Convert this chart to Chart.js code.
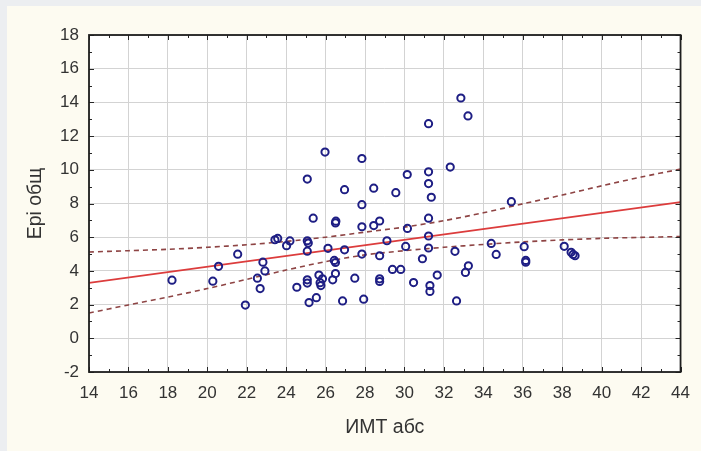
<!DOCTYPE html>
<html>
<head>
<meta charset="utf-8">
<script src="https://cdn.jsdelivr.net/npm/chart.js@4/dist/chart.umd.min.js"></script>
<style>
  html, body { margin: 0; padding: 0; }
  body { background: #eceef1; width: 701px; height: 451px; overflow: hidden; position: relative; }
  #panel { position: absolute; left: 7px; top: 6px; right: 0; bottom: 0; background: #fdfbf1; }
  #wrap { position: absolute; left: 0; top: 0; width: 701px; height: 451px; }
</style>
</head>
<body>
<div id="panel"></div>
<div id="wrap"><canvas id="chart"></canvas></div>
<script>
// ИМТ абс (x) и Ері общ (y) для каждого наблюдения
const imtValues = [
  18.21, 20.28, 20.57, 21.54, 21.93, 22.54, 22.68, 22.82, 22.92, 23.43,
  23.57, 24.02, 24.19, 24.54, 25.07, 25.12, 25.07, 25.07, 25.07, 25.16,
  25.53, 25.66, 25.84, 25.72, 25.76, 26.12, 26.36, 26.50, 26.44, 26.50,
  26.50, 26.52, 25.37, 25.07, 25.97, 26.96, 26.96, 26.86, 27.48, 27.84,
  27.84, 27.84, 27.84, 27.93, 28.44, 28.44, 28.74, 28.74, 28.74, 28.74,
  29.11, 29.39, 29.81, 29.56, 30.14, 30.15, 30.06, 30.46, 30.91, 31.22,
  31.22, 31.22, 31.36, 31.22, 31.22, 31.22, 31.29, 31.29, 31.66, 32.32,
  32.56, 32.64, 32.86, 33.22, 33.24, 33.09, 34.40, 34.65, 35.42, 36.07,
  36.15, 36.15, 38.10, 38.45, 38.55, 38.65
];
const epiValues = [
  3.45, 3.39, 4.27, 4.99, 1.97, 3.57, 2.95, 4.52, 4.00, 5.85,
  5.93, 5.50, 5.78, 3.03, 5.79, 5.65, 5.17, 3.47, 3.28, 2.12,
  2.41, 3.75, 3.53, 3.30, 3.13, 5.34, 3.47, 4.50, 4.62, 3.84,
  6.85, 6.95, 7.13, 9.45, 11.05, 8.82, 5.25, 2.22, 3.57, 10.67,
  7.93, 6.62, 5.00, 2.32, 8.91, 6.69, 6.96, 4.90, 3.53, 3.37,
  5.79, 4.09, 4.09, 8.64, 9.72, 6.52, 5.45, 3.31, 4.72, 12.74,
  9.88, 9.18, 8.37, 7.13, 6.07, 5.36, 3.13, 2.78, 3.75, 10.16,
  5.16, 2.22, 14.26, 13.20, 4.30, 3.91, 5.63, 4.98, 8.11, 5.44,
  4.62, 4.52, 5.46, 5.10, 4.98, 4.90
];

// линия регрессии
const fitX = [14, 44];
const fitY = [3.29, 8.08];

// доверительные границы
const bandX = [14, 16, 18, 20, 22, 24, 26, 28, 30, 32, 34, 36, 38, 40, 42, 44];
const upperBand = [5.12, 5.20, 5.28, 5.40, 5.55, 5.75, 6.00, 6.30, 6.60, 6.98, 7.45, 7.98, 8.50, 9.05, 9.57, 10.04];
const lowerBand = [1.50, 1.98, 2.45, 2.95, 3.50, 4.05, 4.55, 4.95, 5.20, 5.40, 5.57, 5.72, 5.84, 5.93, 5.99, 6.04];

const xTitle = 'ИМТ абс';
const yTitle = 'Ері общ';

const toPoints = (xs, ys) => xs.map((x, i) => ({ x: x, y: ys[i] }));

const textColor = '#333333';
const fontFamily = "'Liberation Sans', Arial, sans-serif";

// белое поле графика, рамка и внутренние засечки
const framePlugin = {
  id: 'frame',
  beforeDraw(chart) {
    const { ctx, chartArea: a } = chart;
    ctx.save();
    ctx.fillStyle = '#ffffff';
    ctx.fillRect(a.left, a.top, a.right - a.left, a.bottom - a.top);
    ctx.restore();
  },
  afterDraw(chart) {
    const { ctx, chartArea: a, scales } = chart;
    const xs = scales.x, ys = scales.y;
    ctx.save();
    ctx.strokeStyle = '#262626';
    ctx.lineWidth = 1;
    ctx.beginPath();
    for (let v = xs.min; v <= xs.max; v++) {
      const px = Math.round(xs.getPixelForValue(v)) + 0.5;
      const len = v % 2 === 0 ? 5 : 3;
      ctx.moveTo(px, a.bottom); ctx.lineTo(px, a.bottom - len);
      ctx.moveTo(px, a.top); ctx.lineTo(px, a.top + len);
    }
    for (let v = ys.min; v <= ys.max; v++) {
      const py = Math.round(ys.getPixelForValue(v)) + 0.5;
      const len = v % 2 === 0 ? 5 : 3;
      ctx.moveTo(a.left, py); ctx.lineTo(a.left + len, py);
      ctx.moveTo(a.right, py); ctx.lineTo(a.right - len, py);
    }
    ctx.stroke();
    ctx.lineWidth = 1.8;
    ctx.strokeStyle = '#1e1e1e';
    ctx.strokeRect(a.left, a.top, a.right - a.left, a.bottom - a.top);
    ctx.restore();
  }
};

const ctx = document.getElementById('chart').getContext('2d');
new Chart(ctx, {
  type: 'scatter',
  data: {
    datasets: [
      {
        label: 'Ері общ',
        data: toPoints(imtValues, epiValues),
        pointStyle: 'circle',
        pointRadius: 3.6,
        pointBorderWidth: 2,
        borderColor: '#1e1e84',
        backgroundColor: 'rgba(0,0,0,0)',
        order: 1
      },
      {
        type: 'line',
        label: 'fit',
        data: toPoints(fitX, fitY),
        borderColor: '#dc3c3c',
        borderWidth: 1.8,
        pointRadius: 0,
        fill: false,
        order: 2
      },
      {
        type: 'line',
        label: 'upper',
        data: toPoints(bandX, upperBand),
        borderColor: '#8e4444',
        borderWidth: 1.6,
        borderDash: [5, 4],
        pointRadius: 0,
        tension: 0.3,
        fill: false,
        order: 3
      },
      {
        type: 'line',
        label: 'lower',
        data: toPoints(bandX, lowerBand),
        borderColor: '#8e4444',
        borderWidth: 1.6,
        borderDash: [5, 4],
        pointRadius: 0,
        tension: 0.3,
        fill: false,
        order: 3
      }
    ]
  },
  options: {
    responsive: true,
    maintainAspectRatio: false,
    animation: false,
    layout: { padding: { top: 35, right: 11, left: 0, bottom: 0 } },
    plugins: {
      legend: { display: false },
      tooltip: { enabled: false }
    },
    scales: {
      x: {
        type: 'linear',
        min: 14,
        max: 44,
        ticks: {
          stepSize: 2,
          padding: 11,
          color: textColor,
          font: { family: fontFamily, size: 17 }
        },
        grid: { color: '#d3d3d3', lineWidth: 1, drawTicks: false },
        border: { display: false },
        title: {
          display: true,
          text: xTitle,
          color: textColor,
          font: { family: fontFamily, size: 19.5 },
          padding: { top: 0, bottom: 12 }
        },
        afterFit(scale) { scale.height = 79; }
      },
      y: {
        min: -2,
        max: 18,
        ticks: {
          stepSize: 2,
          padding: 10,
          color: textColor,
          font: { family: fontFamily, size: 17 }
        },
        grid: { color: '#d3d3d3', lineWidth: 1, drawTicks: false },
        border: { display: false },
        title: {
          display: true,
          text: yTitle,
          color: textColor,
          font: { family: fontFamily, size: 19.5 },
          padding: { top: 24, bottom: 0 }
        },
        afterFit(scale) { scale.width = 89; }
      }
    }
  },
  plugins: [framePlugin]
});
</script>
</body>
</html>
